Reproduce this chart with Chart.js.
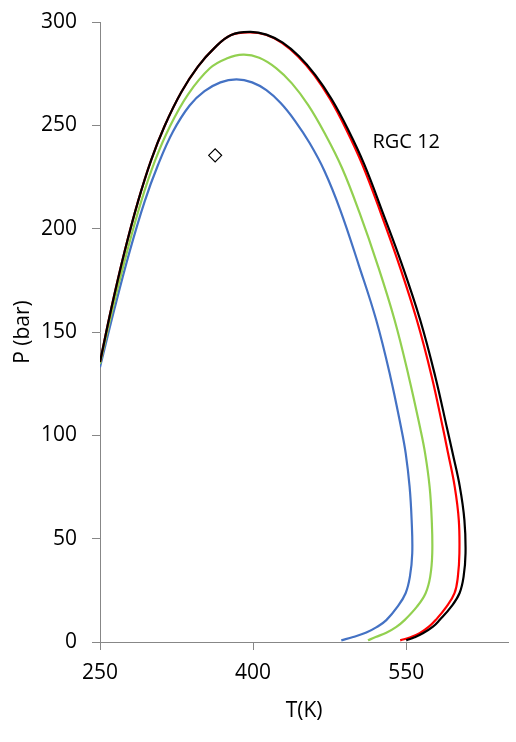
<!DOCTYPE html>
<html>
<head>
<meta charset="utf-8">
<script src="https://cdn.jsdelivr.net/npm/chart.js@4.4.1/dist/chart.umd.min.js"></script>
<style>
  html, body { margin: 0; padding: 0; background: #fff; }
  #wrap { width: 516px; height: 742px; }
</style>
</head>
<body>
<div id="wrap"><canvas id="canvas" width="516" height="742"></canvas></div>
<script>
// phase envelopes, T in K and P in bar
const blueT  = [250, 264.3, 279, 293.7, 306.8, 321.4, 337.8, 352.4, 368, 383.7, 399, 413, 427, 441, 455.5, 470, 485.4, 503.5, 520.6, 534.5, 545.1, 549.5, 553.3, 555.3, 555.9, 553.6, 549.4, 541.5, 530.5, 521, 510.9, 498, 486.4];
const blueP  = [133, 161.5, 188.9, 213.1, 230.8, 246.9, 259.6, 266.5, 270.8, 272.2, 270.8, 267, 260.8, 252.2, 241.3, 227.8, 209, 182.4, 155.8, 128.4, 103.4, 91.3, 75.2, 59, 42.9, 31.6, 23.6, 17.1, 10.6, 7.2, 4.6, 2.4, 0.8];

const greenT = [250, 262.5, 276.5, 290.3, 304, 318, 336.3, 357.6, 374, 390.2, 406, 422.8, 438, 454, 470, 487, 504.4, 522, 538.6, 552.5, 563.7, 568.5, 572.9, 575, 575.5, 573.5, 569, 560.5, 548.4, 540, 530.5, 520, 512.5];
const greenP = [134.5, 161.5, 188.9, 213.1, 233, 249, 265, 277.6, 282.3, 284.2, 282.7, 277.6, 270.3, 259.8, 246.3, 229.5, 207.5, 182.4, 155.8, 128.4, 103.4, 91.3, 75.2, 59, 42.9, 31.6, 23.6, 17.1, 10.6, 7.2, 4.5, 2.4, 0.8];

const redT   = [250, 261.1, 274.1, 287.2, 300.2, 313.3, 329.6, 345.9, 362.2, 378.5, 396.8, 412.5, 428.2, 444, 460, 475.5, 491.2, 507, 524.9, 543.2, 560.4, 575, 586, 591, 597.5, 601.5, 602.1, 600.6, 597.3, 589.5, 578.8, 572.2, 563.1, 554.2, 544.1];
const redP   = [135.5, 161.5, 188.9, 213.1, 233.3, 249.7, 266, 278.4, 287.5, 293.7, 295, 293.8, 289.9, 283.3, 274.2, 262.6, 248, 231, 207.8, 182.4, 155.8, 128.4, 103.4, 91.3, 75.2, 59, 42.9, 31.6, 23.6, 17.1, 10.6, 7.4, 4.2, 2.3, 0.8];

const blackT = [250, 261.1, 274.1, 287.2, 300.2, 313.3, 329.6, 345.9, 362.2, 378.5, 397, 413, 429, 445, 461, 477, 493, 509, 527, 546, 563.7, 578.5, 590, 595.5, 602.5, 607, 608.1, 606.2, 602.2, 594.1, 582.7, 576.2, 566.3, 558.2, 550];
const blackP = [135.5, 161.5, 188.9, 213.1, 233.3, 249.7, 266, 278.4, 287.5, 293.7, 295.2, 293.9, 290, 283.4, 274.3, 262.6, 248, 231, 207.8, 182.4, 155.8, 128.4, 103.4, 91.3, 75.2, 59, 42.9, 31.6, 23.6, 17.1, 10.6, 7.4, 4.2, 2.3, 0.8];

// single measured point
const pointT = [362.8];
const pointP = [235.5];

const xTicks = [250, 400, 550];
const yTicks = [0, 50, 100, 150, 200, 250, 300];

const curveLabel = "RGC 12";
const curveLabelT = 550;
const curveLabelP = 242;

function toXY(xs, ys) {
    return xs.map((x, i) => ({ x: x, y: ys[i] }));
}

function curve(xs, ys, color) {
    return {
        data: toXY(xs, ys),
        showLine: true,
        borderColor: color,
        backgroundColor: color,
        borderWidth: 2.2,
        pointRadius: 0,
        tension: 0.4,
        fill: false
    };
}

const axisGray = "#878787";
const fontFamily = "'Open Sans', 'DejaVu Sans', sans-serif";

const labelPlugin = {
    id: "curveLabel",
    afterDatasetsDraw(chart) {
        const ctx = chart.ctx;
        const x = chart.scales.x.getPixelForValue(curveLabelT);
        const y = chart.scales.y.getPixelForValue(curveLabelP);
        ctx.save();
        ctx.font = "20px " + fontFamily;
        ctx.fillStyle = "#000";
        ctx.textAlign = "center";
        ctx.textBaseline = "middle";
        ctx.fillText(curveLabel, x, y);
        ctx.restore();
    }
};

const canvas = document.getElementById("canvas");

new Chart(canvas.getContext("2d"), {
    type: "scatter",
    data: {
        datasets: [
            {
                data: toXY(pointT, pointP),
                pointStyle: "rectRot",
                pointRadius: 6.5,
                borderColor: "#000",
                backgroundColor: "#fff",
                borderWidth: 1.2,
                showLine: false
            },
            curve(blackT, blackP, "#000000"),
            curve(redT, redP, "#ff0000"),
            curve(greenT, greenP, "#92d050"),
            curve(blueT, blueP, "#4472c4")
        ]
    },
    options: {
        responsive: false,
        animation: false,
        layout: { padding: { top: 22, right: 7, left: 0, bottom: 0 } },
        plugins: {
            legend: { display: false },
            tooltip: { enabled: false }
        },
        scales: {
            x: {
                type: "linear",
                min: 250,
                max: 650,
                afterBuildTicks(scale) {
                    scale.ticks = xTicks.map(v => ({ value: v }));
                },
                afterFit(scale) {
                    scale.height = 100;
                    scale.paddingLeft = 0;
                    scale.paddingRight = 0;
                },
                grid: {
                    drawOnChartArea: false,
                    drawTicks: true,
                    tickLength: 8,
                    color: axisGray
                },
                border: { display: true, color: axisGray, width: 1 },
                ticks: {
                    color: "#000",
                    padding: 10,
                    maxRotation: 0,
                    font: { size: 21, family: fontFamily }
                },
                title: {
                    display: true,
                    text: "T(K)",
                    color: "#000",
                    font: { size: 21, family: fontFamily },
                    padding: { top: 0, bottom: 18 }
                }
            },
            y: {
                type: "linear",
                min: 0,
                max: 300,
                afterBuildTicks(scale) {
                    scale.ticks = yTicks.map(v => ({ value: v }));
                },
                afterFit(scale) {
                    scale.width = 100;
                    // label overhang is covered by the layout padding
                    scale.paddingTop = 0;
                    scale.paddingBottom = 0;
                },
                grid: {
                    drawOnChartArea: false,
                    drawTicks: true,
                    tickLength: 8,
                    color: axisGray
                },
                border: { display: true, color: axisGray, width: 1 },
                ticks: {
                    color: "#000",
                    padding: 15,
                    font: { size: 21, family: fontFamily }
                },
                title: {
                    display: true,
                    text: "P (bar)",
                    color: "#000",
                    font: { size: 21, family: fontFamily },
                    padding: { top: 10, bottom: 0 }
                }
            }
        }
    },
    plugins: [labelPlugin]
});
</script>
</body>
</html>
